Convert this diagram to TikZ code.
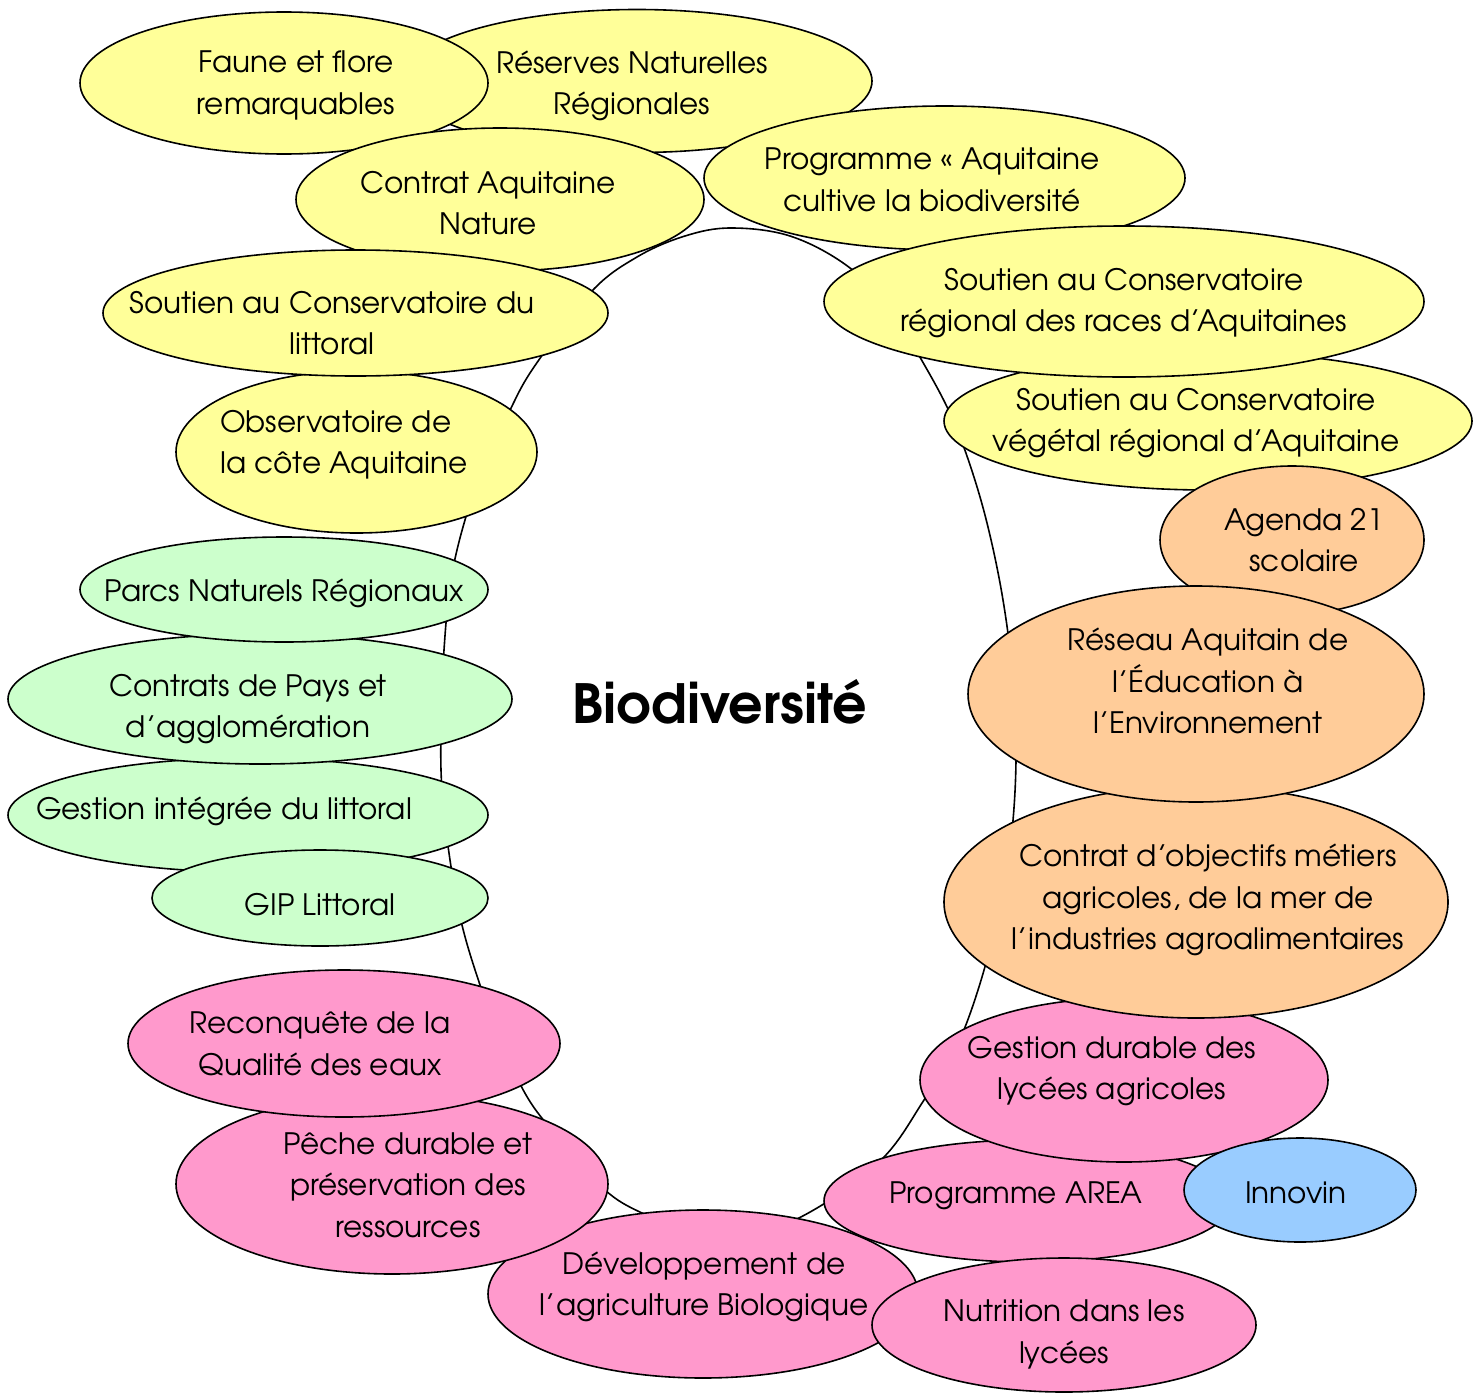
\documentclass[tikz,border=0pt]{standalone}
\usepackage{fontspec}
\setmainfont{texgyreadventor}[Extension=.otf, UprightFont=*-regular, BoldFont=*-bold, ItalicFont=*-italic, BoldItalicFont=*-bolditalic]
\usetikzlibrary{shapes.geometric}
\definecolor{bubyellow}{HTML}{FFFF99}
\definecolor{bubgreen}{HTML}{CCFFCC}
\definecolor{buborange}{HTML}{FFCC99}
\definecolor{bubpink}{HTML}{FF99CC}
\definecolor{bubblue}{HTML}{99CCFF}
\newcommand{\lblfont}{\fontsize{29.5pt}{41.5pt}\selectfont}
\tikzset{
  bubble/.style={ellipse, draw=black, line width=1.6pt, inner sep=0pt, outer sep=0pt},
  ylw/.style={bubble, fill=bubyellow},
  grn/.style={bubble, fill=bubgreen},
  org/.style={bubble, fill=buborange},
  pnk/.style={bubble, fill=bubpink},
  blu/.style={bubble, fill=bubblue},
  sz/.style 2 args={minimum width=#1pt, minimum height=#2pt},
  lbl/.style={align=center, font=\lblfont, inner sep=0pt, yshift=-6pt, execute at begin node=\strut, execute at end node=\strut},
  lbll/.style={lbl, align=left, anchor=west},
  core/.style={font=\fontsize{54pt}{62pt}\selectfont\bfseries, inner sep=0pt}
}
\begin{document}
\begin{tikzpicture}[x=1pt,y=-1pt]
\useasboundingbox (0,0) rectangle (1482,1392);
% central outline
\draw[line width=1.6pt] plot[smooth cycle, tension=0.6] coordinates {
 (731,228) (790,236) (846,265) (890,308) (921,359) (948,409) (968,459) (987,523)
 (1003,600) (1013,680) (1016,760) (1011,840) (998,915) (978,990) (955,1050) (924,1100)
 (884,1157) (822,1205) (760,1233) (700,1235) (642,1213) (605,1190) (565,1145) (529,1100) (500,1040)
 (480,985) (462,925) (450,860) (442,790) (441,730) (444,650) (451,580) (465,520)
 (486,460) (509,412) (534,367) (591,292) (637,257) (685,236)};
\node[core] (bio) at (720,702) {Biodiversité};
% yellow
\node[ylw, sz={470}{143}] (reserves) at (637,81) {};
\node[lbl] (reservesT) at (632,83) {Réserves Naturelles\\Régionales};
\node[ylw, sz={408}{142}] (faune) at (284,83) {};
\node[lbl] (fauneT) at (296,83) {Faune et flore\\remarquables};
\node[ylw, sz={481}{144}] (programme) at (944.5,178) {};
\node[lbl] (programmeT) at (932,180) {Programme « Aquitaine\\cultive la biodiversité};
\node[ylw, sz={408}{143}] (contratan) at (500,199.5) {};
\node[lbl] (contratanT) at (488,203) {Contrat Aquitaine\\Nature};
\node[ylw, sz={361}{162}] (observ) at (356.5,452) {};
\node[lbll] (observT) at (220,442) {Observatoire de\\la côte Aquitaine};
\node[ylw, sz={505}{126}] (littoral) at (355.5,313) {};
\node[lbl] (littoralT) at (332,323) {Soutien au Conservatoire du\\littoral};
\node[ylw, sz={528}{138}] (vegetal) at (1208,421) {};
\node[lbl] (vegetalT) at (1196,420) {Soutien au Conservatoire\\végétal régional d’Aquitaine};
\node[ylw, sz={600}{151}] (races) at (1124,301.5) {};
\node[lbl] (racesT) at (1124,300) {Soutien au Conservatoire\\régional des races d’Aquitaines};
% orange and pink (right)
\node[org, sz={264}{148}] (agenda) at (1292,540) {};
\node[lbl] (agendaT) at (1304,540) {Agenda 21\\scolaire};
\node[pnk, sz={408}{122}] (area) at (1028,1201) {};
\node[lbl] (areaT) at (1016,1189) {Programme AREA};
\node[pnk, sz={408}{164}] (gestdur) at (1124,1080) {};
\node[lbl] (gestdurT) at (1112,1068) {Gestion durable des\\lycées agricoles};
\node[org, sz={504}{232}] (contratobj) at (1196,902) {};
\node[lbl] (contratobjT) at (1208,897) {Contrat d’objectifs métiers\\agricoles, de la mer de\\l’industries agroalimentaires};
\node[org, sz={456}{216}] (reseau) at (1196,694) {};
\node[lbl] (reseauT) at (1208,681) {Réseau Aquitain de\\l’Éducation à\\l’Environnement};
\node[blu, sz={232}{104}] (innovin) at (1300,1190) {};
\node[lbl] (innovinT) at (1296,1189) {Innovin};
\node[pnk, sz={430}{168}] (devel) at (703,1294) {};
\node[lbl] (develT) at (704,1284) {Développement de\\l’agriculture Biologique};
\node[pnk, sz={384}{134}] (nutrition) at (1064,1325) {};
\node[lbl] (nutritionT) at (1064,1332) {Nutrition dans les\\lycées};
\node[pnk, sz={432}{180}] (peche) at (392,1184) {};
\node[lbl] (pecheT) at (408,1185) {Pêche durable et\\préservation des\\ressources};
\node[pnk, sz={432}{147}] (reconq) at (344,1043.5) {};
\node[lbl] (reconqT) at (320,1044) {Reconquête de la\\Qualité des eaux};
% green
\node[grn, sz={480}{114}] (gestint) at (248,815) {};
\node[lbl] (gestintT) at (224,805) {Gestion intégrée du littoral};
\node[grn, sz={336}{96}] (gip) at (320,898) {};
\node[lbl] (gipT) at (320,901) {GIP Littoral};
\node[grn, sz={504}{130}] (pays) at (260,699) {};
\node[lbl] (paysT) at (248,706) {Contrats de Pays et\\d’agglomération};
\node[grn, sz={408}{105}] (parcs) at (284,589.5) {};
\node[lbl] (parcsT) at (284,587) {Parcs Naturels Régionaux};
\end{tikzpicture}
\end{document}
